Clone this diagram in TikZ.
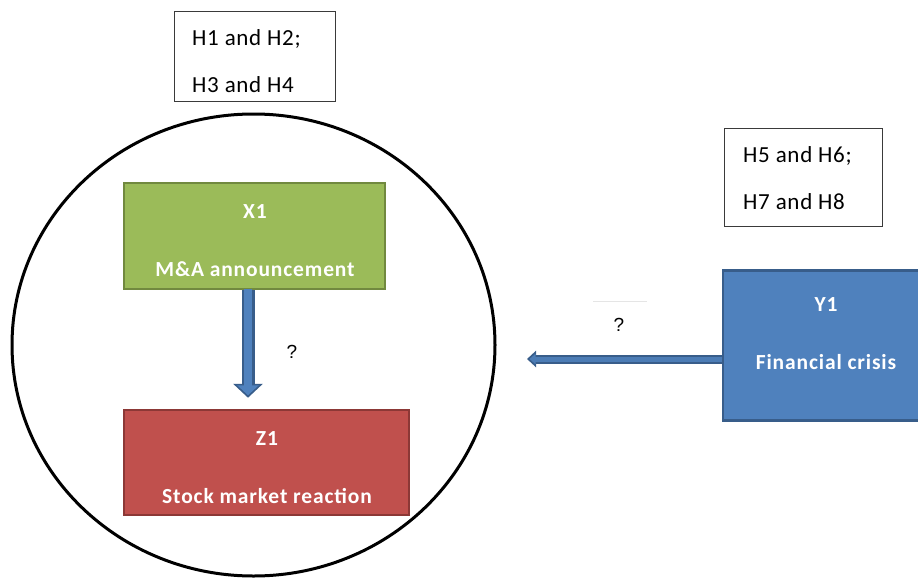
\documentclass[tikz,border=0pt]{standalone}
\usepackage{fontspec}
\setmainfont{Carlito}
\newfontfamily\hfont[LetterSpace=3]{Carlito}
\newfontfamily\boxfont[LetterSpace=4]{Carlito}
\newfontfamily\qfont{Liberation Sans}
\usetikzlibrary{arrows.meta}
\definecolor{gfill}{HTML}{9BBB59}
\definecolor{gline}{HTML}{71893F}
\definecolor{rfill}{HTML}{C0504D}
\definecolor{rline}{HTML}{8C3836}
\definecolor{bfill}{HTML}{4F81BD}
\definecolor{bline}{HTML}{385D8A}
\definecolor{hline}{HTML}{3A3A3A}
\begin{document}
\begin{tikzpicture}[x=1pt,y=-1pt,
  hbox/.style={draw=hline, line width=1.3pt, fill=white, inner sep=0pt},
  htext/.style={inner sep=0pt, align=left, anchor=west, font=\hfont\fontsize{23}{47}\selectfont, text=black},
  gbox/.style={draw=gline, fill=gfill, line width=2.5pt, inner sep=0pt},
  rbox/.style={draw=rline, fill=rfill, line width=2.5pt, inner sep=0pt},
  bbox/.style={draw=bline, fill=bfill, line width=2.5pt, inner sep=0pt},
  btext/.style={inner sep=0pt, align=center, text=white, font=\boxfont\bfseries\fontsize{21.5}{58}\selectfont},
  qm/.style={inner sep=0pt, font=\qfont\fontsize{19}{22}\selectfont},
  darrout/.style={draw=bline, line width=13pt, -{Triangle[width=29pt,length=14pt]}},
  darrin/.style={draw=bfill, line width=8pt, -{Triangle[width=21pt,length=10pt]}},
  larrout/.style={draw=bline, line width=9pt, -{Triangle[width=16pt,length=9pt]}},
  larrin/.style={draw=bfill!85!bline, line width=5pt, -{Triangle[width=10pt,length=6pt]}}
]
\useasboundingbox (0,0) rectangle (918,578);
\clip (0,0) rectangle (918,578);
\fill[white] (0,0) rectangle (918,578);

% big circle
\draw[line width=3pt] (253.5,345) ellipse [x radius=241.5pt, y radius=231pt];

% hypothesis boxes
\node[hbox, minimum width=161pt, minimum height=90pt] (h1) at (255,56.5) {};
\node[htext] (h1t) at (192,61.5) {H1 and H2;\\H3 and H4};
\node[hbox, minimum width=158pt, minimum height=98pt] (h5) at (803.5,177.5) {};
\node[htext] (h5t) at (743,178.5) {H5 and H6;\\H7 and H8};

% coloured boxes
\node[gbox, minimum width=261pt, minimum height=106pt] (x1) at (254.5,236) {};
\node[btext] (x1t) at (255,241) {X1\\M\&A announcement};
\node[rbox, minimum width=285pt, minimum height=105pt] (z1) at (266.5,462.5) {};
\node[btext] (z1t) at (267,467.5) {Z1\\Stock market reaction};
\node[bbox, minimum width=206pt, minimum height=150pt] (y1) at (826,345.5) {};
\node[btext] (y1t) at (826,333.5) {Y1\\Financial crisis};

% down arrow X1 -> Z1
\draw[darrout] ([xshift=-6.5pt]x1.south) -- ([xshift=-6.5pt,yshift=11pt]z1.north -| x1.south);
\draw[darrin] ([xshift=-6.5pt,yshift=1pt]x1.south) -- ([xshift=-6.5pt,yshift=13.5pt]z1.north -| x1.south);

% left arrow from Y1
\coordinate (tipL) at (527,359);
\coordinate (tipLin) at (529.5,359);
\draw[larrout] (y1.west |- tipL) -- (tipL);
\draw[larrin] (y1.west |- tipL) -- (tipLin);

% faint text-box edge and question marks
\draw[gray!20, line width=0.8pt] (593,301) -- (647,301);
\node[qm] (q1) at (292,352) {?};
\node[qm] (q2) at (619,325) {?};
\end{tikzpicture}
\end{document}
